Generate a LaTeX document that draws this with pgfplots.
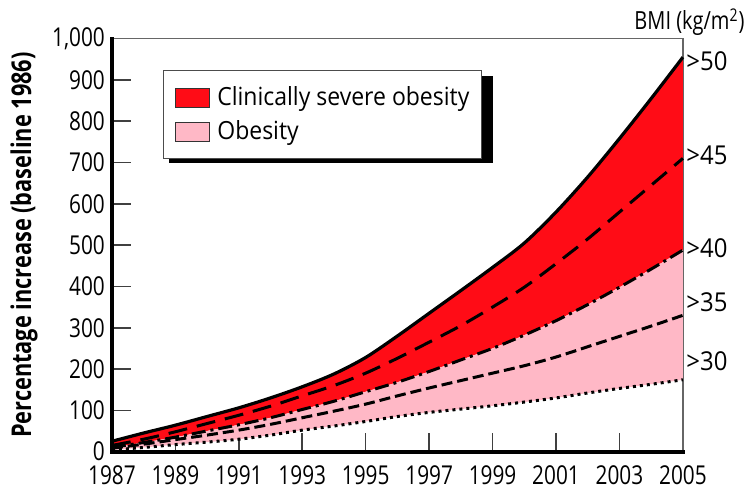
\documentclass[border=0pt]{standalone}
\usepackage{fontspec}
\setmainfont[FakeStretch=0.92]{Open Sans}
\newfontfamily\narrow[FakeStretch=0.8]{Open Sans}
\usepackage{pgfplots}
\pgfplotsset{compat=1.18}
\usepackage{pgfplotstable}
\usepgfplotslibrary{fillbetween}

\definecolor{severe}{RGB}{255,12,22}
\definecolor{obese}{RGB}{255,184,198}

% percentage increase over 1986
\pgfplotstableread{
year  b30  b35  b40  b45  b50
1987    4    8   10   15   25
1988   10   18   22   30   45
1989   17   29   35   48   64
1990   23   40   50   68   85
1991   30   52   65   88  106
1992   40   66   82  110  130
1993   52   82  102  135  157
1994   62   98  122  160  188
1995   73  115  145  190  228
1996   85  135  168  226  280
1997   95  154  194  265  335
1998  103  172  222  305  390
1999  111  190  250  350  446
2000  120  208  282  398  505
2001  130  229  317  455  580
2002  142  254  356  515  665
2003  153  279  398  580  758
2004  163  304  442  645  855
2005  174  330  488  710  955
}\bmidata

\begin{document}
\begin{tikzpicture}
\begin{axis}[
    scale only axis,
    width=285.5pt, height=206.5pt,
    xmin=1987, xmax=2005,
    ymin=0, ymax=1000,
    clip=false,
    xtick={1987,1989,...,2005},
    minor x tick num=1,
    ytick={0,100,...,1000},
    tick pos=left,
    tick align=inside,
    major tick length=9.5pt,
    minor tick length=6pt,
    tick style={black!75, line width=0.8pt},
    axis line style={black!60, line width=0.7pt},
    font=\fontsize{13}{15}\selectfont,
    tick label style={font=\narrow\fontsize{13}{15}\selectfont},
    /pgf/number format/assume math mode=true,
    xticklabel style={/pgf/number format/1000 sep={}, yshift=-3.5pt},
    yticklabel style={/pgf/number format/1000 sep={,}},
    ylabel={\narrow\bfseries\fontsize{13.6}{16}\selectfont Percentage increase (baseline 1986)},
    ylabel style={at={(rel axis cs:-0.154,0.5)}, anchor=center},
    legend style={at={(0.089,0.924)}, anchor=north west,
        draw=black!70, line width=0.6pt,
        font=\fontsize{12.5}{15}\selectfont,
        inner xsep=4pt, inner ysep=6pt, row sep=2pt,
        cells={anchor=west}},
    legend image code/.code={\draw[#1, draw=black!80, line width=0.5pt] (2pt,-4.75pt) rectangle (19pt,4.75pt);
        \path[draw=none, fill=none] (0pt,0pt) -- (21pt,0pt);},
]
% shadow behind the legend box
\fill[black] (rel axis cs:0.0998,0.6987) rectangle (rel axis cs:0.6673,0.9094);

\addplot[name path=p50, forget plot, draw=none, smooth] table[x=year, y=b50] {\bmidata};
\addplot[name path=p40, forget plot, draw=none, smooth] table[x=year, y=b40] {\bmidata};
\addplot[name path=p30, forget plot, draw=none, smooth] table[x=year, y=b30] {\bmidata};
\addplot[fill=severe, draw=none, forget plot] fill between[of=p50 and p40];
\addplot[fill=obese, draw=none, forget plot] fill between[of=p40 and p30];

\addplot[forget plot, black, line width=1.6pt, smooth] table[x=year, y=b50] {\bmidata};
\addplot[forget plot, black, line width=1.5pt, smooth, dash pattern=on 9.5pt off 5pt] table[x=year, y=b45] {\bmidata};
\addplot[forget plot, black, line width=1.5pt, smooth, dash pattern=on 7pt off 2.5pt on 1.5pt off 2.5pt] table[x=year, y=b40] {\bmidata};
\addplot[forget plot, black, line width=1.5pt, smooth, dash pattern=on 5.5pt off 2.5pt] table[x=year, y=b35] {\bmidata};
\addplot[forget plot, black, line width=1.5pt, smooth, dash pattern=on 1.5pt off 2pt] table[x=year, y=b30] {\bmidata};

\addlegendimage{fill=severe}
\addlegendentry{Clinically severe obesity}
\addlegendimage{fill=obese}
\addlegendentry{Obesity}

\draw[black, line width=2pt, line cap=rect] (rel axis cs:0,1) -- (rel axis cs:0,0) -- (rel axis cs:1,0);

\node[anchor=west, xshift=-1.8pt] at (axis cs:2005,945) {>50};
\node[anchor=west, xshift=-1.8pt] at (axis cs:2005,718) {>45};
\node[anchor=west, xshift=-1.8pt] at (axis cs:2005,492) {>40};
\node[anchor=west, xshift=-1.8pt] at (axis cs:2005,362) {>35};
\node[anchor=west, xshift=-1.8pt] at (axis cs:2005,218) {>30};
\node[anchor=east, inner sep=0pt, font=\narrow\fontsize{12.5}{15}\selectfont] at (rel axis cs:1.1086,1.04) {BMI (kg/m\textsuperscript{2})};

\coordinate (bbsw) at (rel axis cs:-0.196,-0.108);
\coordinate (bbne) at (rel axis cs:1.114,1.0935);
\end{axis}
\pgfresetboundingbox
\useasboundingbox (bbsw) rectangle (bbne);
\end{tikzpicture}
\end{document}
